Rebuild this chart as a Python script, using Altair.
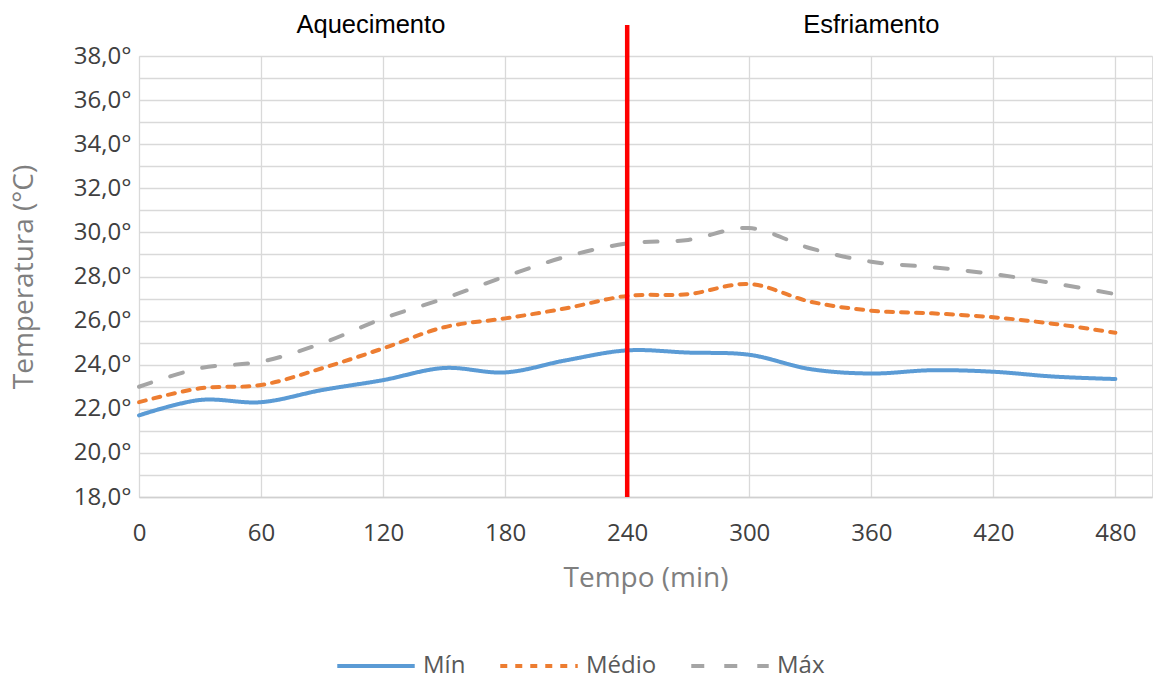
import altair as alt
import pandas as pd

# ---- data ----
times = [0, 30, 60, 90, 120, 150, 180, 210, 240, 270, 300, 330, 360, 390, 420, 450, 480]
t_min = [21.7, 22.4, 22.3, 22.85, 23.3, 23.85, 23.65, 24.2, 24.65, 24.55, 24.45, 23.8, 23.6, 23.75, 23.68, 23.46, 23.35]
t_med = [22.3, 22.93, 23.08, 23.84, 24.74, 25.7, 26.1, 26.56, 27.12, 27.2, 27.66, 26.86, 26.45, 26.33, 26.15, 25.85, 25.45]
t_max = [23.0, 23.84, 24.14, 24.97, 26.1, 27.0, 28.0, 28.9, 29.5, 29.66, 30.2, 29.28, 28.67, 28.42, 28.11, 27.69, 27.2]

series = ["Mín", "Médio", "Máx"]
colors = ["#5B9BD5", "#ED7D31", "#A5A5A5"]
dashes = [[1, 0], [7, 8], [13, 20]]

x_ticks = [0, 60, 120, 180, 240, 300, 360, 420, 480]
y_ticks = list(range(18, 39))

divider_t = [240]
phase_labels = ["Aquecimento", "Esfriamento"]
phase_t = [114, 360]

rows = []
for name, vals in zip(series, [t_min, t_med, t_max]):
    for t, v in zip(times, vals):
        rows.append({"t": t, "v": v, "s": name})
df = pd.DataFrame(rows)

W, H = 1013, 441
FONT = "Open Sans"

x_enc = alt.X(
    "t:Q",
    scale=alt.Scale(domain=[0, 498], nice=False, zero=False),
    axis=alt.Axis(
        values=x_ticks, format="d", title="Tempo (min)",
        labelFontSize=24, labelColor="#404040", labelPadding=24, labelFont=FONT,
        labelFlush=False, labelOverlap=False,
        titleFontSize=28, titleColor="#7F7F7F", titleFontWeight="normal", titleFont=FONT,
        titleY=81, titleBaseline="middle",
        ticks=False, domain=True, domainColor="#D0D0D0", domainWidth=1.5,
        grid=True, gridColor="#D9D9D9", gridWidth=1.3,
    ),
)
y_enc = alt.Y(
    "v:Q",
    scale=alt.Scale(domain=[18, 38], nice=False, zero=False),
    axis=alt.Axis(
        values=y_ticks,
        labelExpr="datum.value % 2 == 0 ? replace(format(datum.value, '.1f'), '.', ',') + '°' : ''",
        title="Temperatura (°C)",
        labelFontSize=24, labelColor="#404040", labelPadding=8, labelFont=FONT,
        labelFlush=False, labelOverlap=False,
        titleFontSize=28, titleColor="#7F7F7F", titleFontWeight="normal", titleFont=FONT,
        titleX=-115, titleY=H / 2, titleAngle=270, titleAlign="center", titleBaseline="middle",
        ticks=False, domain=False,
        grid=True, gridColor="#D9D9D9", gridWidth=1.3,
    ),
)

legend_cfg = dict(
    title=None, orient="none", direction="horizontal",
    legendX=196, legendY=569, padding=0,
    symbolType="stroke", symbolSize=6000, symbolStrokeWidth=4,
    labelFontSize=24, labelColor="#595959", labelOffset=6,
    columnPadding=26, labelFont=FONT,
)

lines = alt.Chart(df).mark_line(interpolate="catmull-rom", strokeWidth=4, strokeCap="round").encode(
    x=x_enc,
    y=y_enc,
    color=alt.Color("s:N", scale=alt.Scale(domain=series, range=colors), legend=alt.Legend(**legend_cfg)),
    strokeDash=alt.StrokeDash("s:N", scale=alt.Scale(domain=series, range=dashes), legend=alt.Legend(**legend_cfg)),
)

divider = alt.Chart(pd.DataFrame({"t": divider_t})).mark_rule(color="#FF0000", strokeWidth=4.5).encode(
    x="t:Q", y=alt.value(-31), y2=alt.value(H)
)

phases = alt.Chart(pd.DataFrame({"t": phase_t, "label": phase_labels})).mark_text(
    font="Liberation Sans", fontSize=25.5, color="#000000", baseline="alphabetic", align="center"
).encode(x="t:Q", y=alt.value(-23), text="label:N")

chart = alt.layer(lines, divider, phases).properties(
    width=W, height=H,
    autosize=alt.AutoSizeParams(type="none"),
    padding={"left": 139, "top": 56, "right": 2, "bottom": 182},
    background="white",
).configure_view(stroke=None).configure(font=FONT)

chart.save("out.html", embed_options={"renderer": "svg", "actions": False})
